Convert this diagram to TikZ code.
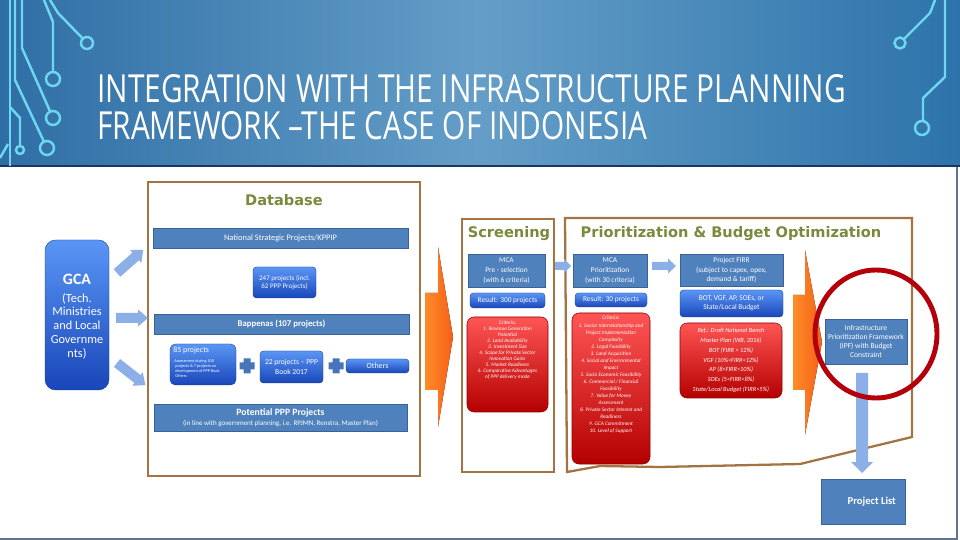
\documentclass[tikz,border=0pt]{standalone}
\usepackage{fontspec}
\setmainfont{Carlito}
\newfontfamily\titlefont{Open Sans}
\newfontfamily\headfont{DejaVu Sans}
\usetikzlibrary{calc}
\definecolor{hdl}{RGB}{47,110,165}
\definecolor{hdm}{RGB}{100,158,200}
\definecolor{hdr}{RGB}{45,115,170}
\definecolor{navy}{RGB}{28,55,95}
\definecolor{circ}{RGB}{110,215,240}
\definecolor{steel}{RGB}{79,129,189}
\definecolor{steeld}{RGB}{58,98,150}
\definecolor{gtop}{RGB}{90,150,245}
\definecolor{gbot}{RGB}{25,70,185}
\definecolor{rtop}{RGB}{255,85,85}
\definecolor{rbot}{RGB}{180,0,0}
\definecolor{brownf}{RGB}{165,115,65}
\definecolor{olivet}{RGB}{120,138,60}
\definecolor{arrowb}{RGB}{140,175,232}
\definecolor{orA}{RGB}{255,140,40}
\definecolor{orB}{RGB}{245,95,25}
\definecolor{redc}{RGB}{180,0,10}
\definecolor{plusc}{RGB}{70,118,185}
\tikzset{
 frame/.style={draw=brownf, line width=1.3pt},
 steelbox/.style={fill=steel, draw=steeld, line width=0.3pt, text=white, align=center, inner sep=0.5pt},
 gradbox/.style={rounded corners=2pt, top color=gtop, bottom color=gbot, draw=gbot!80!black, line width=0.2pt, text=white, align=center, inner sep=0.5pt},
 redbox/.style={rounded corners=4pt, top color=rtop, bottom color=rbot, draw=rbot!80!black, line width=0.3pt},
 redtext/.style={text=white, align=center, inner sep=0pt},
 headtxt/.style={text=olivet, font=\headfont\bfseries\fontsize{8.3}{10}\selectfont, inner sep=0pt},
 circuit/.style={draw=circ, line width=1.4pt},
 arrowfill/.style={fill=arrowb},
 ttl/.style={anchor=base west, inner sep=0pt, text=white, font=\titlefont\fontsize{22}{22}\selectfont},
}
\newcommand\bx[7]{\node[#6, minimum width={(#4-#2)*0.02cm}, minimum height={(#5-#3)*0.02cm}] (#1) at ({(#2+#4)/2},{(#3+#5)/2}) {#7};}
\newcommand\barrow[7]{\fill[arrowfill,shift={(#1,#2)},rotate=#3] (0,-#5) -- ({#4-#7},-#5) -- ({#4-#7},-#6) -- (#4,0) -- ({#4-#7},#6) -- ({#4-#7},#5) -- (0,#5) -- cycle;}
\newcommand\plussign[2]{\fill[plusc] ({#1-7.5},{#2-3.5}) -- ({#1-3.5},{#2-3.5}) -- ({#1-3.5},{#2-7.5}) -- ({#1+3.5},{#2-7.5}) -- ({#1+3.5},{#2-3.5}) -- ({#1+7.5},{#2-3.5}) -- ({#1+7.5},{#2+3.5}) -- ({#1+3.5},{#2+3.5}) -- ({#1+3.5},{#2+7.5}) -- ({#1-3.5},{#2+7.5}) -- ({#1-3.5},{#2+3.5}) -- ({#1-7.5},{#2+3.5}) -- cycle;}
\begin{document}
\begin{tikzpicture}[x=0.02cm,y=-0.02cm]
\useasboundingbox (0,0) rectangle (960,540);
% header
\shade[left color=hdl, right color=hdr, middle color=hdm] (0,0) rectangle (960,166);
\fill[white] (0,166) rectangle (960,540);
\draw[navy, line width=1.6pt] (0,166) -- (960,166);
\draw[navy!70, line width=0.8pt] (957,167) -- (957,539) -- (0,539);
% circuit decorations
\draw[circuit] (10,0) -- (10,166);
\draw[circuit] (22,0) -- (22,48) -- (50.2,111.6);
\draw[circuit] (53,118) circle[radius=0.14cm];
\draw[circuit] (44,0) -- (53,22) -- (53,72);
\draw[circuit] (53,79) circle[radius=0.14cm];
\draw[circuit] (50,0) -- (58,13) -- (82.9,38.7);
\draw[circuit] (87,43) circle[radius=0.12cm];
\draw[circuit] (15,0) -- (15,80) -- (44,141.7);
\draw[circuit] (47,148) circle[radius=0.14cm];
\draw[circuit] (10,107) -- (20,118) -- (20,146);
\draw[circuit] (20,150) circle[radius=0.08cm];
\draw[circuit] (0,158) -- (8,144);
\draw[circuit] (935,0) -- (930,13) -- (903.9,39.1);
\draw[circuit] (900,43) circle[radius=0.11cm];
\draw[circuit] (945,0) -- (945,77) -- (923,98) -- (923,121);
\draw[circuit] (922,128) circle[radius=0.14cm];
% title
\node[ttl] (t1) at (97,103) {\scalebox{0.77}[1]{INTEGRATION WITH THE INFRASTRUCTURE PLANNING}};
\node[ttl] (t2) at (97,140) {\scalebox{0.77}[1]{FRAMEWORK –THE CASE OF INDONESIA}};
% frames
\draw[frame] (148,182) rectangle (420,476);
\draw[frame] (462,219) rectangle (554,472);
\draw[frame] (565,218) -- (912,218) -- (912,437) -- (800,464) -- (660,467) -- (600,466) -- (567,472) -- cycle;
\node[headtxt] (hdb) at (284,200) {Database};
\node[headtxt] (hsc) at (509,234) {Screening};
\node[headtxt] (hpr) at (731,234) {Prioritization \& Budget Optimization};
% GCA
\bx{gca}{45}{240}{109}{390}{gradbox, rounded corners=6pt}{}
\node[text=white, inner sep=0pt, font=\fontsize{9}{11}\selectfont\bfseries] (gcat) at (77,279) {GCA};
\node[text=white, inner sep=0pt, align=center, font=\fontsize{7}{7.8}\selectfont] (gcas) at (77,326) {(Tech.\\Ministries\\and Local\\Governme\\nts)};
\barrow{117}{273}{41.5}{35}{5}{8.5}{10}
\barrow{116}{318}{0}{32}{5}{8.5}{10}
\barrow{117}{363}{-38}{36}{5}{8.5}{10}
% database content
\bx{nsp}{153}{228}{408}{248}{steelbox, font=\fontsize{4.8}{5.5}\selectfont}{National Strategic Projects/KPPIP}
\bx{p247}{253}{267}{316}{298}{gradbox, font=\fontsize{4}{5}\selectfont}{247 projects (incl.\\62 PPP Projects)}
\bx{bapp}{154}{314}{409}{334}{steelbox, font=\fontsize{5}{6}\selectfont\bfseries}{Bappenas (107 projects)}
\bx{p85}{170}{344}{236}{385}{gradbox, rounded corners=3pt}{}
\node[anchor=north west, inner sep=0pt, text=white, font=\fontsize{4.5}{5}\selectfont] (p85t) at (173,347) {85 projects};
\node[anchor=north west, inner sep=0pt, text=white, align=left, font=\fontsize{2.4}{2.9}\selectfont] (p85s) at (174,359) {Assessment during 100\\ \ projects \& 7 projects on\\ \ development of PPP Book\\ \ Others};
\plussign{247}{366}
\bx{p22}{260}{351}{323}{383}{gradbox, font=\fontsize{4.3}{5.5}\selectfont}{22 projects – PPP\\Book 2017}
\plussign{336}{366}
\bx{oth}{346}{359}{409}{373}{gradbox, font=\fontsize{4.5}{5}\selectfont}{Others}
\bx{ppp}{154}{404}{407}{431}{steelbox, font=\fontsize{4}{6}\selectfont}{{\fontsize{5.5}{6.5}\selectfont\bfseries Potential PPP Projects}\\(in line with government planning, i.e. RPJMN, Renstra, Master Plan)}
% orange arrows
\fill[left color=orA, right color=orB] (425,293) -- (438,293) -- (438,247) -- (453,337) -- (438,427) -- (438,390) -- (425,390) -- cycle;
\fill[left color=orA, right color=orB] (793,295) -- (805,295) -- (805,250) -- (822,342) -- (805,435) -- (805,390) -- (793,390) -- cycle;
% screening
\bx{mcaS}{468}{254}{545}{287}{steelbox, font=\fontsize{4.2}{5.6}\selectfont}{MCA\\Pre - selection\\(with 6 criteria)}
\bx{resS}{470}{293}{545}{308}{gradbox, font=\fontsize{4.2}{5}\selectfont}{Result: 300 projects}
\bx{redS}{467}{317}{548}{412}{redbox}{}
\node[redtext, anchor=north, font=\fontsize{3}{3.4}\selectfont\itshape] (critS) at (507.5,321) {{\upshape Criteria:}\\1. Revenue Generation\\Potential\\2. Land Availability\\3. Investment Size\\4. Scope for Private Sector\\Innovation Gains\\5. Market Readiness\\6. Comparative Advantages\\of PPP delivery mode};
\barrow{555}{266}{0}{16}{4}{7}{7}
% prioritization
\bx{mcaP}{573}{254}{647}{287}{steelbox, font=\fontsize{4.2}{5.6}\selectfont}{MCA\\Prioritization\\(with 30 criteria)}
\bx{resP}{575}{293}{647}{307}{gradbox, font=\fontsize{4.2}{5}\selectfont}{Result: 30 projects}
\bx{redP}{572}{313}{650}{464}{redbox}{}
\node[redtext, anchor=north, font=\fontsize{3}{4}\selectfont\itshape] (critP) at (611,316) {{\upshape Criteria:}\\1. Sector Interrelationship and\\Project Implementation\\Complexity\\2. Legal Feasibility\\3. Land Acquisition\\4. Social and Environmental\\Impact\\5. Socio Economic Feasibility\\6. Commercial / Financial\\Feasibility\\7. Value for Money\\Assessment\\8. Private Sector Interest and\\Readiness\\9. GCA Commitment\\10. Level of Support};
\barrow{652}{266}{0}{24}{4}{7.5}{8}
\bx{firr}{680}{254}{783}{286}{steelbox, font=\fontsize{4.2}{5.6}\selectfont}{Project FIRR\\(subject to capex, opex,\\demand \& tariff)}
\bx{bud}{680}{290}{783}{317}{gradbox, font=\fontsize{4.2}{5.2}\selectfont}{BOT, VGF, AP, SOEs, or\\State/Local Budget}
\bx{redB}{680}{323}{782}{398}{redbox, redtext, font=\fontsize{3.6}{5.6}\selectfont\itshape}{Ref.: Draft National Bench\\Master Plan (WB, 2016)\\BOT (FIRR > 12\%)\\VGF (10\%<FIRR<12\%)\\AP (8<FIRR<10\%)\\SOEs (5<FIRR<8\%)\\State/Local Budget (FIRR<5\%)}
% IPF and project list
\bx{ipf}{825}{319}{907}{364}{steelbox, font=\fontsize{4.3}{5.1}\selectfont}{Infrastructure\\Prioritization Framework\\(IPF) with Budget\\Constraint}
\bx{plist}{821}{479}{905}{524}{steelbox, font=\fontsize{6}{7}\selectfont\bfseries}{\hspace*{10pt}Project List}
\fill[arrowfill] (856,373) -- (868,373) -- (868,462) -- (873,462) -- (862,473) -- (851,462) -- (856,462) -- cycle;
\draw[redc, line width=2.8pt] (876,334) ellipse[x radius=1.22cm, y radius=1.28cm];
\end{tikzpicture}
\end{document}
